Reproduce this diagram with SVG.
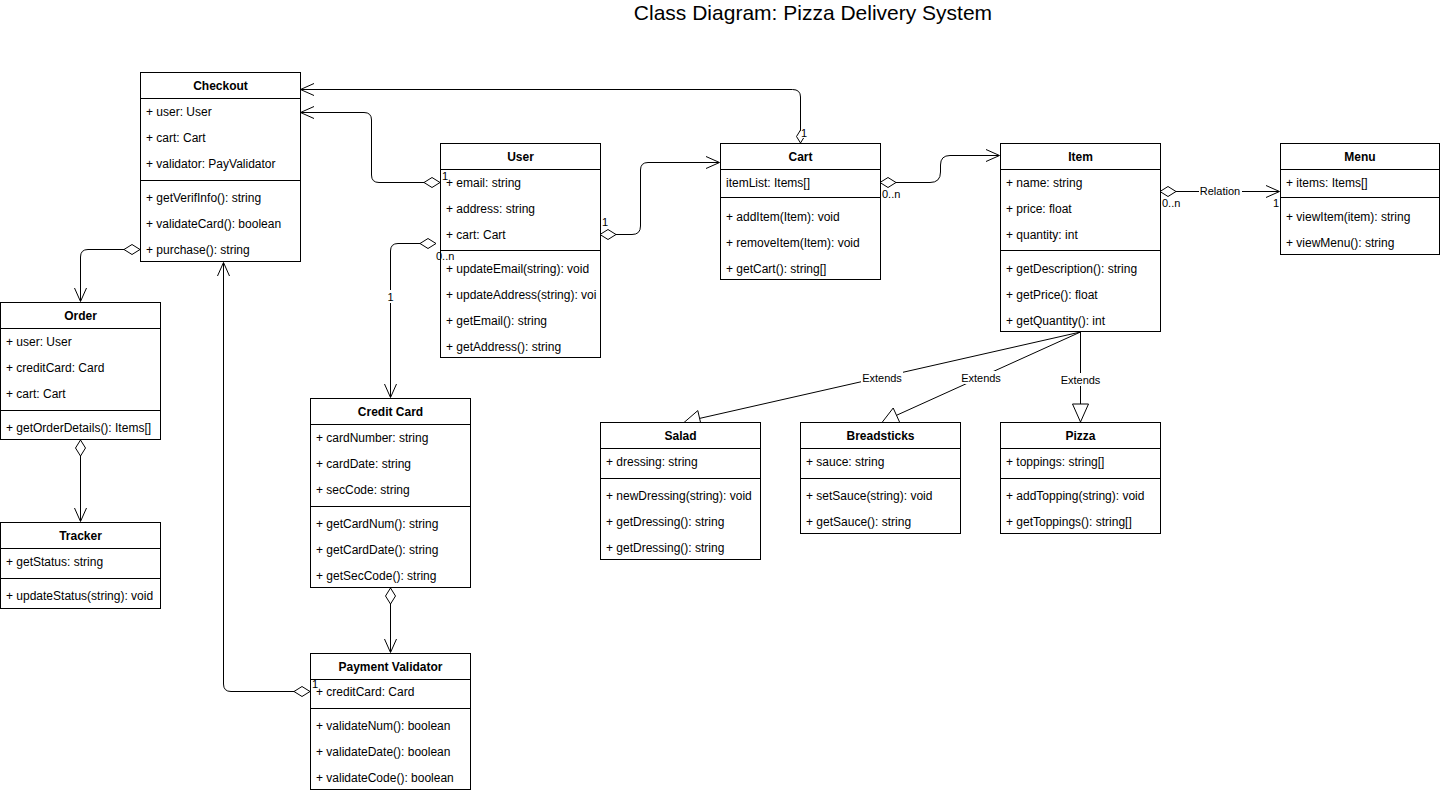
<svg xmlns="http://www.w3.org/2000/svg" width="1441" height="794" viewBox="0 0 1441 794">
<style>
.box{fill:#fff;stroke:#000;stroke-width:1}
.sep{stroke:#000;stroke-width:1}
.hd{font-family:"Liberation Sans",Arial,sans-serif;font-size:12px;font-weight:bold;text-anchor:middle;fill:#000}
.t{font-family:"Liberation Sans",Arial,sans-serif;font-size:12px;fill:#000}
.ln{fill:none;stroke:#000;stroke-width:1}
.dia{fill:#fff;stroke:#000;stroke-width:1}
.tri{fill:#fff;stroke:#000;stroke-width:1}
.lbl{font-family:"Liberation Sans",Arial,sans-serif;font-size:11px;fill:#000}
.lblc{font-family:"Liberation Sans",Arial,sans-serif;font-size:11px;fill:#000;text-anchor:middle}
.title{font-family:"Liberation Sans",Arial,sans-serif;font-size:21px;fill:#000;text-anchor:middle}
</style>
<rect width="1441" height="794" fill="#fff"/>
<text class="title" x="813" y="20">Class Diagram: Pizza Delivery System</text>

<g id="connectors">
  <!-- Cart -> Checkout -->
  <path class="ln" d="M800.5,130 L800.5,97 Q800.5,89.5 792.5,89.5 L301,89.5"/>
  <path class="ln" d="M314,83.5 L300.5,89.5 L314,95.5"/>
  <polygon class="dia" points="800.5,143 804.5,136.5 800.5,130 796.5,136.5"/>
  <!-- User -> Checkout -->
  <path class="ln" d="M424,182.5 L379,182.5 Q371.5,182.5 371.5,175 L371.5,120 Q371.5,112.5 364,112.5 L301,112.5"/>
  <path class="ln" d="M314,106.5 L300.5,112.5 L314,118.5"/>
  <polygon class="dia" points="440,182.5 432,177.5 424,182.5 432,187.5"/>
  <!-- User -> Cart -->
  <path class="ln" d="M616,234.5 L632,234.5 Q640.5,234.5 640.5,226 L640.5,170 Q640.5,162.5 648,162.5 L719,162.5"/>
  <path class="ln" d="M706,156.5 L719.5,162.5 L706,168.5"/>
  <polygon class="dia" points="600,234.5 608,229.5 616,234.5 608,239.5"/>
  <!-- User -> Credit Card -->
  <path class="ln" d="M420,243.5 L398,243.5 Q390.5,243.5 390.5,251 L390.5,397"/>
  <path class="ln" d="M384.5,384 L390.5,397.5 L396.5,384"/>
  <polygon class="dia" points="436,243.5 428,238.5 420,243.5 428,248.5"/>
  <!-- Cart -> Item -->
  <path class="ln" d="M896,182.5 L930,182.5 Q940.5,182.5 940.5,172 L940.5,165 Q940.5,155.5 950,155.5 L999,155.5"/>
  <path class="ln" d="M986,149.5 L999.5,155.5 L986,161.5"/>
  <polygon class="dia" points="880,182.5 888,177.5 896,182.5 888,187.5"/>
  <!-- Item -> Menu -->
  <path class="ln" d="M1176,191.5 L1279,191.5"/>
  <path class="ln" d="M1266,185.5 L1279.5,191.5 L1266,197.5"/>
  <polygon class="dia" points="1160,191.5 1168,186.5 1176,191.5 1168,196.5"/>
  <!-- Checkout -> Order -->
  <path class="ln" d="M124,249.5 L88,249.5 Q80.5,249.5 80.5,257 L80.5,301"/>
  <path class="ln" d="M74.5,288 L80.5,301.5 L86.5,288"/>
  <polygon class="dia" points="140,249.5 132,244.5 124,249.5 132,254.5"/>
  <!-- Order -> Tracker -->
  <path class="ln" d="M80.5,456 L80.5,521"/>
  <path class="ln" d="M74.5,508 L80.5,521.5 L86.5,508"/>
  <polygon class="dia" points="80.5,440 85.5,448 80.5,456 75.5,448"/>
  <!-- Payment Validator -> Checkout -->
  <path class="ln" d="M294,691.5 L231,691.5 Q223.5,691.5 223.5,684 L223.5,263"/>
  <path class="ln" d="M217.5,276 L223.5,262.5 L229.5,276"/>
  <polygon class="dia" points="310,691.5 302,686.5 294,691.5 302,696.5"/>
  <!-- Credit Card -> Payment Validator -->
  <path class="ln" d="M390.5,604 L390.5,652"/>
  <path class="ln" d="M384.5,639 L390.5,652.5 L396.5,639"/>
  <polygon class="dia" points="390.5,588 395.5,596 390.5,604 385.5,596"/>
  <!-- Extends: Item -> Salad -->
  <path class="ln" d="M1080.5,332 L699.6,418.4"/>
  <polygon class="tri" points="684,422.5 697.8,410.6 701.4,426.2"/>
  <!-- Extends: Item -> Breadsticks -->
  <path class="ln" d="M1080.5,332 L896.5,415.3"/>
  <polygon class="tri" points="882,422.5 893.2,408 899.8,422.6"/>
  <!-- Extends: Item -> Pizza -->
  <path class="ln" d="M1080.5,332 L1080.5,404"/>
  <polygon class="tri" points="1072.5,404 1088.5,404 1080.5,422"/>
  <!-- connector labels on lines -->
  <rect x="861" y="371" width="42" height="13" fill="#fff"/>
  <text class="lblc" x="882" y="382">Extends</text>
  <rect x="960" y="371" width="42" height="13" fill="#fff"/>
  <text class="lblc" x="981" y="382">Extends</text>
  <rect x="1059" y="373" width="42" height="13" fill="#fff"/>
  <text class="lblc" x="1080.5" y="384">Extends</text>
  <rect x="1199" y="185" width="43" height="13" fill="#fff"/>
  <text class="lblc" x="1220" y="195">Relation</text>
  <rect x="386" y="290" width="9" height="13" fill="#fff"/>
  <text class="lblc" x="390.5" y="301">1</text>
</g>

<g id="checkout">
  <rect class="box" x="140.5" y="72.5" width="160" height="189"/>
  <line class="sep" x1="140.5" y1="98.5" x2="300.5" y2="98.5"/>
  <line class="sep" x1="140.5" y1="180.5" x2="300.5" y2="180.5"/>
  <text class="hd" x="220.5" y="90">Checkout</text>
  <text class="t" x="146" y="116">+ user: User</text>
  <text class="t" x="146" y="142">+ cart: Cart</text>
  <text class="t" x="146" y="168">+ validator: PayValidator</text>
  <text class="t" x="146" y="202">+ getVerifInfo(): string</text>
  <text class="t" x="146" y="228">+ validateCard(): boolean</text>
  <text class="t" x="146" y="254">+ purchase(): string</text>
</g>

<g id="user">
  <rect class="box" x="440.5" y="143.5" width="160" height="214"/>
  <line class="sep" x1="440.5" y1="169.5" x2="600.5" y2="169.5"/>
  <line class="sep" x1="440.5" y1="250.5" x2="600.5" y2="250.5"/>
  <text class="hd" x="520.5" y="161">User</text>
  <text class="t" x="446" y="187">+ email: string</text>
  <text class="t" x="446" y="213">+ address: string</text>
  <text class="t" x="446" y="239">+ cart: Cart</text>
  <text class="t" x="446" y="273">+ updateEmail(string): void</text>
  <text class="t" x="446" y="299">+ updateAddress(string): voi</text>
  <text class="t" x="446" y="325">+ getEmail(): string</text>
  <text class="t" x="446" y="351">+ getAddress(): string</text>
</g>

<g id="cart">
  <rect class="box" x="720.5" y="143.5" width="160" height="136"/>
  <line class="sep" x1="720.5" y1="169.5" x2="880.5" y2="169.5"/>
  <line class="sep" x1="720.5" y1="197.5" x2="880.5" y2="197.5"/>
  <text class="hd" x="800.5" y="161">Cart</text>
  <text class="t" x="726" y="187">itemList: Items[]</text>
  <text class="t" x="726" y="221">+ addItem(Item): void</text>
  <text class="t" x="726" y="247">+ removeItem(Item): void</text>
  <text class="t" x="726" y="273">+ getCart(): string[]</text>
</g>

<g id="item">
  <rect class="box" x="1000.5" y="143.5" width="160" height="188"/>
  <line class="sep" x1="1000.5" y1="169.5" x2="1160.5" y2="169.5"/>
  <line class="sep" x1="1000.5" y1="250.5" x2="1160.5" y2="250.5"/>
  <text class="hd" x="1080.5" y="161">Item</text>
  <text class="t" x="1006" y="187">+ name: string</text>
  <text class="t" x="1006" y="213">+ price: float</text>
  <text class="t" x="1006" y="239">+ quantity: int</text>
  <text class="t" x="1006" y="273">+ getDescription(): string</text>
  <text class="t" x="1006" y="299">+ getPrice(): float</text>
  <text class="t" x="1006" y="325">+ getQuantity(): int</text>
</g>

<g id="menu">
  <rect class="box" x="1280.5" y="143.5" width="159" height="111"/>
  <line class="sep" x1="1280.5" y1="169.5" x2="1439.5" y2="169.5"/>
  <line class="sep" x1="1280.5" y1="197.5" x2="1439.5" y2="197.5"/>
  <text class="hd" x="1360" y="161">Menu</text>
  <text class="t" x="1286" y="187">+ items: Items[]</text>
  <text class="t" x="1286" y="221">+ viewItem(item): string</text>
  <text class="t" x="1286" y="247">+ viewMenu(): string</text>
</g>

<g id="order">
  <rect class="box" x="0.5" y="302.5" width="160" height="137"/>
  <line class="sep" x1="0.5" y1="328.5" x2="160.5" y2="328.5"/>
  <line class="sep" x1="0.5" y1="410.5" x2="160.5" y2="410.5"/>
  <text class="hd" x="80.5" y="320">Order</text>
  <text class="t" x="6" y="346">+ user: User</text>
  <text class="t" x="6" y="372">+ creditCard: Card</text>
  <text class="t" x="6" y="398">+ cart: Cart</text>
  <text class="t" x="6" y="432">+ getOrderDetails(): Items[]</text>
</g>

<g id="tracker">
  <rect class="box" x="0.5" y="522.5" width="160" height="86"/>
  <line class="sep" x1="0.5" y1="548.5" x2="160.5" y2="548.5"/>
  <line class="sep" x1="0.5" y1="578.5" x2="160.5" y2="578.5"/>
  <text class="hd" x="80.5" y="540">Tracker</text>
  <text class="t" x="6" y="566">+ getStatus: string</text>
  <text class="t" x="6" y="600">+ updateStatus(string): void</text>
</g>

<g id="credit-card">
  <rect class="box" x="310.5" y="398.5" width="160" height="189"/>
  <line class="sep" x1="310.5" y1="424.5" x2="470.5" y2="424.5"/>
  <line class="sep" x1="310.5" y1="506.5" x2="470.5" y2="506.5"/>
  <text class="hd" x="390.5" y="416">Credit Card</text>
  <text class="t" x="316" y="442">+ cardNumber: string</text>
  <text class="t" x="316" y="468">+ cardDate: string</text>
  <text class="t" x="316" y="494">+ secCode: string</text>
  <text class="t" x="316" y="528">+ getCardNum(): string</text>
  <text class="t" x="316" y="554">+ getCardDate(): string</text>
  <text class="t" x="316" y="580">+ getSecCode(): string</text>
</g>

<g id="payment-validator">
  <rect class="box" x="310.5" y="653.5" width="160" height="136"/>
  <line class="sep" x1="310.5" y1="679.5" x2="470.5" y2="679.5"/>
  <line class="sep" x1="310.5" y1="708.5" x2="470.5" y2="708.5"/>
  <text class="hd" x="390.5" y="671">Payment Validator</text>
  <text class="t" x="316" y="696">+ creditCard: Card</text>
  <text class="t" x="316" y="730">+ validateNum(): boolean</text>
  <text class="t" x="316" y="756">+ validateDate(): boolean</text>
  <text class="t" x="316" y="782">+ validateCode(): boolean</text>
</g>

<g id="salad">
  <rect class="box" x="600.5" y="422.5" width="160" height="137"/>
  <line class="sep" x1="600.5" y1="448.5" x2="760.5" y2="448.5"/>
  <line class="sep" x1="600.5" y1="478.5" x2="760.5" y2="478.5"/>
  <text class="hd" x="680.5" y="440">Salad</text>
  <text class="t" x="606" y="466">+ dressing: string</text>
  <text class="t" x="606" y="500">+ newDressing(string): void</text>
  <text class="t" x="606" y="526">+ getDressing(): string</text>
  <text class="t" x="606" y="552">+ getDressing(): string</text>
</g>

<g id="breadsticks">
  <rect class="box" x="800.5" y="422.5" width="160" height="111"/>
  <line class="sep" x1="800.5" y1="448.5" x2="960.5" y2="448.5"/>
  <line class="sep" x1="800.5" y1="478.5" x2="960.5" y2="478.5"/>
  <text class="hd" x="880.5" y="440">Breadsticks</text>
  <text class="t" x="806" y="466">+ sauce: string</text>
  <text class="t" x="806" y="500">+ setSauce(string): void</text>
  <text class="t" x="806" y="526">+ getSauce(): string</text>
</g>

<g id="pizza">
  <rect class="box" x="1000.5" y="422.5" width="160" height="111"/>
  <line class="sep" x1="1000.5" y1="448.5" x2="1160.5" y2="448.5"/>
  <line class="sep" x1="1000.5" y1="478.5" x2="1160.5" y2="478.5"/>
  <text class="hd" x="1080.5" y="440">Pizza</text>
  <text class="t" x="1006" y="466">+ toppings: string[]</text>
  <text class="t" x="1006" y="500">+ addTopping(string): void</text>
  <text class="t" x="1006" y="526">+ getToppings(): string[]</text>
</g>

<g id="end-labels">
  <rect x="801" y="127" width="7" height="11" fill="#fff"/>
  <text class="lbl" x="801" y="137">1</text>
  <text class="lbl" x="442" y="180">1</text>
  <text class="lbl" x="602" y="226">1</text>
  <text class="lbl" x="436" y="260">0..n</text>
  <text class="lbl" x="882" y="198">0..n</text>
  <text class="lbl" x="1162" y="207">0..n</text>
  <text class="lbl" x="1273" y="207">1</text>
  <text class="lbl" x="312" y="688">1</text>
</g>
</svg>
